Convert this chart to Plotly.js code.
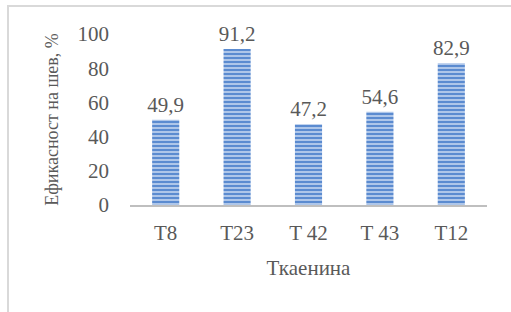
<!DOCTYPE html>
<html>
<head>
<meta charset="utf-8">
<script src="https://cdn.plot.ly/plotly-3.0.1.min.js"></script>
<style>
html, body { margin: 0; padding: 0; background: #fff; }
#frame { position: absolute; left: 7px; top: 5px; width: 520px; height: 320px; border-left: 2px solid #d9d9d9; border-top: 2px solid #d9d9d9; }
#chart { position: absolute; left: 0; top: 0; width: 511px; height: 312px; }
</style>
</head>
<body>
<div id="frame"></div>
<div id="chart"></div>
<script>
const categories = ["T8", "T23", "T 42", "T 43", "T12"];
const values = [49.9, 91.2, 47.2, 54.6, 82.9];
const valueLabels = ["49,9", "91,2", "47,2", "54,6", "82,9"];
const yTickValues = [0, 20, 40, 60, 80, 100];
const xTitle = "Ткаенина";
const yTitle = "Ефикасност на шев, %";

const font = "Liberation Serif, Times New Roman, serif";
const grey = "#595959";

Plotly.newPlot("chart", [{
  type: "bar",
  x: categories,
  y: values,
  text: valueLabels,
  textposition: "outside",
  constraintext: "none",
  cliponaxis: false,
  textfont: { family: font, size: 21, color: grey },
  marker: {
    color: "#5b8bd0",
    line: { width: 0 },
    pattern: { shape: "-", bgcolor: "#5b8bd0", fgcolor: "#c3d5f0", size: 4, solidity: 0.4, fillmode: "replace" }
  },
  hoverinfo: "none"
}], {
  width: 511, height: 312,
  margin: { l: 130, r: 24, t: 34, b: 107, pad: 0 },
  paper_bgcolor: "rgba(0,0,0,0)",
  plot_bgcolor: "rgba(0,0,0,0)",
  bargap: 0.62,
  showlegend: false,
  font: { family: font, size: 21, color: grey },
  xaxis: {
    showline: true, linecolor: "#bfbfbf", linewidth: 2,
    ticks: "", ticklabelstandoff: 8,
    tickfont: { family: font, size: 21, color: grey },
    title: { text: xTitle, font: { family: font, size: 21, color: grey }, standoff: 16 },
    showgrid: false, zeroline: false, fixedrange: true
  },
  yaxis: {
    range: [0, 100],
    tickvals: yTickValues,
    ticktext: yTickValues.map(String),
    showline: false, ticks: "", ticklabelstandoff: 20,
    tickfont: { family: font, size: 21, color: grey },
    title: { text: yTitle, font: { family: font, size: 18, color: grey }, standoff: 14 },
    showgrid: false, zeroline: false, fixedrange: true
  }
}, { staticPlot: true, displayModeBar: false });
</script>
</body>
</html>
